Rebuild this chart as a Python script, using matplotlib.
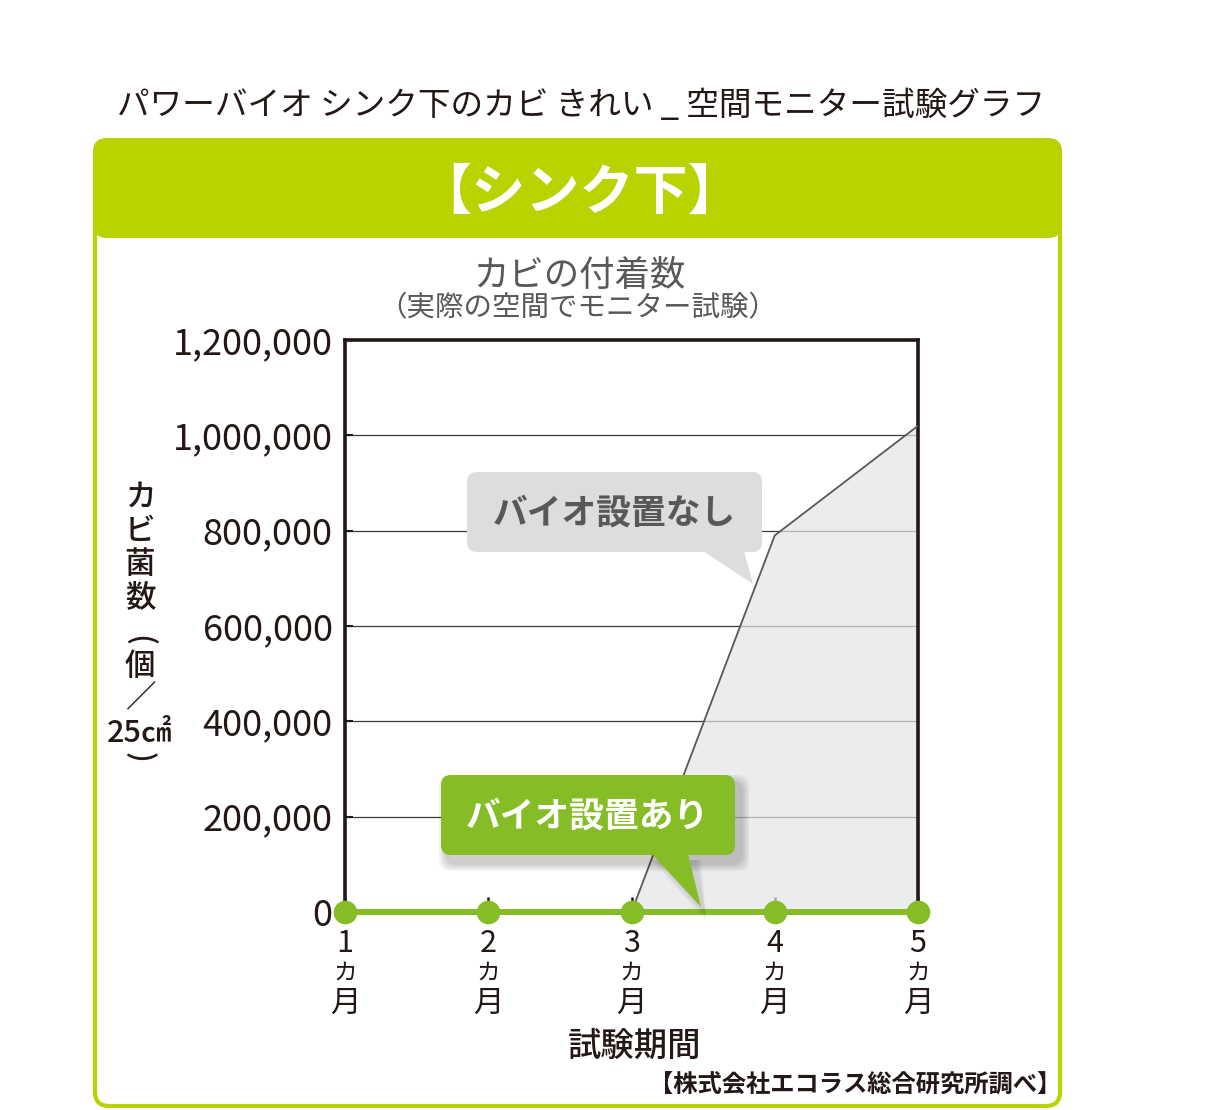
import matplotlib
matplotlib.use("Agg")
import matplotlib.pyplot as plt
from matplotlib.patches import FancyBboxPatch, Polygon

plt.rcParams['font.family'] = ['Noto Sans CJK JP', 'DejaVu Sans']

# ---------------- data ----------------
months = [1, 2, 3, 4, 5]
month_labels = ['1', '2', '3', '4', '5']
without_bio = [0, 0, 0, 790000, 1020000]   # バイオ設置なし
with_bio = [0, 0, 0, 0, 0]                 # バイオ設置あり
yticks = [0, 200000, 400000, 600000, 800000, 1000000, 1200000]
ytick_labels = ['0', '200,000', '400,000', '600,000', '800,000', '1,000,000', '1,200,000']
ylabel_chars = ['カ', 'ビ', '菌', '数', '(', '個', '／', '25㎠', ')']

title = 'パワーバイオ シンク下のカビ きれい _ 空間モニター試験グラフ'
header = '【シンク下】'
subtitle1 = 'カビの付着数'
subtitle2 = '（実際の空間でモニター試験）'
xlabel = '試験期間'
source = '【株式会社エコラス総合研究所調べ】'
label_without = 'バイオ設置なし'
label_with = 'バイオ設置あり'

DARK = '#231815'
GREY_TXT = '#595757'
LIME = '#b9d300'
GREEN = '#86bc25'

W, H = 1214, 1110
fig = plt.figure(figsize=(W / 100, H / 100), dpi=100)

# background layer in pixel coordinates
bg = fig.add_axes([0, 0, 1, 1], zorder=0)
bg.set_xlim(0, W)
bg.set_ylim(H, 0)
bg.axis('off')

bg.add_patch(FancyBboxPatch((95, 140), 965, 966,
                            boxstyle='round,pad=0,rounding_size=14',
                            fc='white', ec=LIME, lw=3.0))
bg.add_patch(FancyBboxPatch((93, 138), 969, 100,
                            boxstyle='round,pad=0,rounding_size=14',
                            fc=LIME, ec='none'))

bg.text(581, 106, title, ha='center', va='center', fontsize=23.5, color=DARK)
bg.text(580, 193, header, ha='center', va='center', fontsize=39,
        fontweight='bold', color='white')
bg.text(579, 276, subtitle1, ha='center', va='center', fontsize=25.5, color=GREY_TXT)
bg.text(578, 308, subtitle2, ha='center', va='center', fontsize=20.5, color=GREY_TXT)
bg.text(635, 1046, xlabel, ha='center', va='center', fontsize=24,
        fontweight='medium', color=DARK)
bg.text(1061, 1085, source, ha='right', va='center', fontsize=17.5,
        fontweight='bold', color=DARK)

ylab_y = [497, 531, 565, 598, 640, 666, 699, 734, 757]
ylab_fs = [22, 22, 22, 22, 22, 22, 22, 22, 22]
ylab_rot = [0, 0, 0, 0, -90, 0, 0, 0, -90]
ylab_x = [140, 140, 140, 140, 139, 140, 140, 139, 139]
for ch, xx, yy, fs, rot in zip(ylabel_chars, ylab_x, ylab_y, ylab_fs, ylab_rot):
    bg.text(xx, yy, ch, ha='center', va='center', fontsize=fs, rotation=rot,
            rotation_mode='anchor', fontweight='medium', color=DARK)

# ---------------- main chart ----------------
ax = fig.add_axes([345 / W, 198 / H, 573 / W, 572 / H], zorder=1)
ax.set_facecolor('none')
ax.set_xlim(1, 5)
ax.set_ylim(0, 1200000)

ax.yaxis.grid(True, color='#3e3a39', lw=0.9, zorder=1)
ax.set_axisbelow(True)

ax.fill_between(months, without_bio, 0, color='#e3e5e6', alpha=0.7, lw=0, zorder=2)
ax.plot(months, without_bio, color='#595757', lw=1.3, zorder=3)
ax.plot(months, with_bio, color=GREEN, lw=4.3, marker='o', ms=16,
        zorder=6, clip_on=False)

for s in ['left', 'top', 'right']:
    ax.spines[s].set_color(DARK)
    ax.spines[s].set_linewidth(2.6)
ax.spines['bottom'].set_visible(False)

ax.set_yticks(yticks)
ax.set_yticklabels(ytick_labels)
ax.tick_params(axis='y', direction='in', length=6, width=1.5, color=DARK,
               pad=9, labelsize=26, labelcolor=DARK)
ax.set_xticks(months)
ax.tick_params(axis='x', direction='in', length=11, width=1.8, color=DARK,
               labelbottom=False)

for m, lab in zip(months, month_labels):
    ax.annotate(lab, xy=(m, 0), xycoords=('data', 'axes fraction'),
                xytext=(0, -22.5), textcoords='offset points',
                ha='center', va='center', fontsize=22, color=DARK)
    ax.annotate('カ', xy=(m, 0), xycoords=('data', 'axes fraction'),
                xytext=(0, -44), textcoords='offset points',
                ha='center', va='center', fontsize=17, color=DARK)
    ax.annotate('月', xy=(m, 0), xycoords=('data', 'axes fraction'),
                xytext=(0, -65.5), textcoords='offset points',
                ha='center', va='center', fontsize=22, color=DARK)

# ---------------- callouts (overlay in pixel coords) ----------------
ov = fig.add_axes([0, 0, 1, 1], zorder=5)
ov.set_xlim(0, W)
ov.set_ylim(H, 0)
ov.axis('off')
ov.patch.set_alpha(0)

# grey callout
GREY_BOX = '#dcdddd'
ov.add_patch(FancyBboxPatch((467, 472), 295, 80,
                            boxstyle='round,pad=0,rounding_size=10',
                            fc=GREY_BOX, ec='none'))
ov.add_patch(Polygon([(703, 551), (753, 584), (744, 551)], closed=True,
                     fc=GREY_BOX, ec='none'))
ov.text(614, 513, label_without, ha='center', va='center', fontsize=25,
        fontweight='bold', color=GREY_TXT)

# green callout with soft shadow
for i, a in enumerate([0.05, 0.05, 0.05, 0.05]):
    p = 2 + i * 2
    ov.add_patch(FancyBboxPatch((447 - p, 783 - p), 294 + 2 * p, 80 + 2 * p,
                                boxstyle='round,pad=0,rounding_size=12',
                                fc='black', ec='none', alpha=a))
    ov.add_patch(Polygon([(659 - p, 860), (706, 913 + p), (694 + p, 860)],
                         closed=True, fc='black', ec='none', alpha=a * 0.6))
ov.add_patch(FancyBboxPatch((441, 775), 294, 80,
                            boxstyle='round,pad=0,rounding_size=10',
                            fc=GREEN, ec='none'))
ov.add_patch(Polygon([(652, 854), (701, 907), (688, 854)], closed=True,
                     fc=GREEN, ec='none'))
ov.text(587, 816, label_with, ha='center', va='center', fontsize=25,
        fontweight='bold', color='white')

fig.savefig('out.png', dpi=100, facecolor='white')
